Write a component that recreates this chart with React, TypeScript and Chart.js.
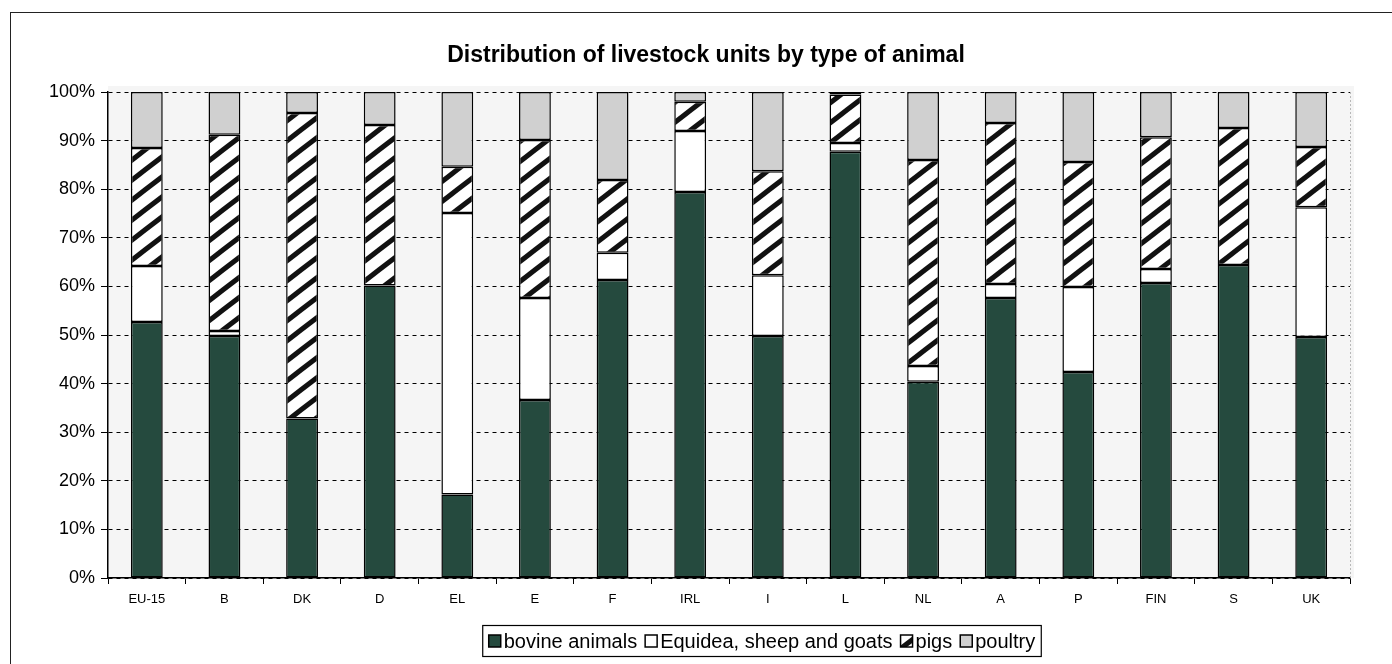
import React, { useEffect, useRef } from "react";
import { Chart, registerables } from "chart.js";
Chart.register(...registerables);

const TITLE = "Distribution of livestock units by type of animal";
const categories = ["EU-15", "B", "DK", "D", "EL", "E", "F", "IRL", "I", "L", "NL", "A", "P", "FIN", "S", "UK"];
const seriesLabels = ["bovine animals", "Equidea, sheep and goats", "pigs", "poultry"];
const bovine = [52.7, 49.8, 32.8, 60.2, 17.2, 36.6, 61.3, 79.4, 49.8, 87.7, 40.4, 57.6, 42.4, 60.7, 64.4, 49.6];
const equidae = [11.5, 1.0, 0, 0, 57.9, 21.0, 5.6, 12.6, 12.5, 1.8, 3.2, 2.9, 17.5, 2.9, 0, 26.7];
const pigs = [24.3, 40.4, 62.9, 33.0, 9.5, 32.5, 15.0, 6.0, 21.4, 10.0, 42.4, 33.1, 25.7, 27.1, 28.2, 12.4];
const poultry = [11.5, 8.8, 4.3, 6.8, 15.4, 9.9, 18.1, 2.0, 16.3, 0.5, 14.0, 6.4, 14.4, 9.3, 7.4, 11.3];
const yTicks = [0, 10, 20, 30, 40, 50, 60, 70, 80, 90, 100];

const FONT = '"Liberation Sans", Arial, sans-serif';

function makeHatch(): CanvasPattern | string {
  const w = 26, h = 20;
  const c = document.createElement("canvas");
  c.width = w;
  c.height = h;
  const g = c.getContext("2d");
  if (!g) return "#ffffff";
  g.fillStyle = "#ffffff";
  g.fillRect(0, 0, w, h);
  g.strokeStyle = "#111111";
  g.lineWidth = 5;
  for (let k = -1; k <= 1; k++) {
    g.beginPath();
    g.moveTo(k * w - w, h * 2);
    g.lineTo(k * w + w * 2, -h);
    g.stroke();
  }
  const p = g.createPattern(c, "repeat");
  return p || "#ffffff";
}

export default function App() {
  const ref = useRef<HTMLCanvasElement | null>(null);

  useEffect(() => {
    const canvas = ref.current;
    if (!canvas) return;
    const hatch = makeHatch();
    const fills: any[] = ["#254a3e", "#ffffff", hatch, "#d0d0d0"];
    const values = [bovine, equidae, pigs, poultry];

    const bgPlugin = {
      id: "bgPlugin",
      beforeDraw(chart: any) {
        const { ctx, chartArea } = chart;
        ctx.save();
        ctx.fillStyle = "#ffffff";
        ctx.fillRect(0, 0, chart.width, chart.height);
        ctx.fillStyle = "#f5f5f5";
        ctx.fillRect(chartArea.left, chartArea.top - 6, chartArea.right - chartArea.left + 4, chartArea.bottom - chartArea.top + 6);
        ctx.restore();
      },
      afterDraw(chart: any) {
        const { ctx, chartArea } = chart;
        ctx.save();
        // title
        ctx.font = "bold 23px " + FONT;
        ctx.fillStyle = "#000000";
        ctx.textAlign = "center";
        ctx.textBaseline = "middle";
        ctx.fillText(TITLE, 695, 43);

        // right faint dotted edge
        ctx.strokeStyle = "#b8b8b8";
        ctx.lineWidth = 1;
        ctx.setLineDash([2, 2]);
        ctx.beginPath();
        ctx.moveTo(chartArea.right + 0.5, chartArea.top);
        ctx.lineTo(chartArea.right + 0.5, chartArea.bottom);
        ctx.stroke();
        ctx.setLineDash([]);

        // legend
        ctx.font = "20px " + FONT;
        ctx.textBaseline = "middle";
        ctx.textAlign = "left";
        const box = 12, gapBox = 3, gapItem = 8, padX = 6;
        const ds = chart.data.datasets;
        const widths = ds.map((d: any) => ctx.measureText(d.label).width);
        let total = 0;
        widths.forEach((w: number, i: number) => {
          total += box + gapBox + w + (i < widths.length - 1 ? gapItem : 0);
        });
        const cx = 751, cy = 628, bh = 31;
        const lx = cx - total / 2 - padX;
        ctx.fillStyle = "#ffffff";
        ctx.fillRect(lx, cy - bh / 2, total + padX * 2, bh);
        ctx.strokeStyle = "#000000";
        ctx.lineWidth = 1.2;
        ctx.strokeRect(lx, cy - bh / 2, total + padX * 2, bh);
        let x = cx - total / 2;
        ds.forEach((d: any, i: number) => {
          ctx.fillStyle = d.backgroundColor;
          ctx.fillRect(x, cy - box / 2, box, box);
          ctx.strokeStyle = "#000000";
          ctx.lineWidth = 1.5;
          ctx.strokeRect(x, cy - box / 2, box, box);
          x += box + gapBox;
          ctx.fillStyle = "#000000";
          ctx.fillText(d.label, x, cy + 1);
          x += widths[i] + gapItem;
        });
        ctx.restore();
      },
    };

    const chart = new Chart(canvas, {
      type: "bar",
      data: {
        labels: categories,
        datasets: seriesLabels.map((label, i) => ({
          label,
          data: values[i],
          backgroundColor: fills[i],
          borderColor: "#000000",
          borderWidth: 1.5,
          borderSkipped: false,
          barPercentage: 0.41,
          categoryPercentage: 1,
        })),
      },
      options: {
        animation: false,
        responsive: false,
        devicePixelRatio: 1,
        layout: { padding: { left: 0, right: 42, top: 79, bottom: 0 } },
        plugins: {
          legend: { display: false },
          tooltip: { enabled: false },
          title: { display: false },
        },
        scales: {
          x: {
            stacked: true,
            grid: {
              display: true,
              offset: true,
              drawOnChartArea: false,
              drawTicks: true,
              tickLength: 6,
              color: "#000000",
              tickColor: "#000000",
            },
            border: { display: true, color: "#000000", width: 1.5 },
            ticks: {
              color: "#000000",
              font: { family: FONT, size: 13 },
              padding: 8,
              maxRotation: 0,
              autoSkip: false,
            },
            afterFit(scale: any) {
              scale.height = 86;
            },
          },
          y: {
            stacked: true,
            min: 0,
            max: 100,
            afterBuildTicks(scale: any) {
              scale.ticks = yTicks.map((v) => ({ value: v }));
            },
            ticks: {
              color: "#000000",
              font: { family: FONT, size: 18 },
              padding: 6,
              callback: (v: any) => v + "%",
            },
            grid: {
              color: "#000000",
              lineWidth: 1,
              drawTicks: true,
              tickLength: 7,
              tickColor: "#000000",
            },
            border: { display: true, color: "#000000", width: 1.5, dash: [4, 4] },
            afterFit(scale: any) {
              scale.width = 97;
            },
          },
        },
      },
      plugins: [bgPlugin],
    } as any);
    return () => chart.destroy();
  }, []);

  return (
    <div
      style={{
        position: "fixed",
        left: 10,
        top: 12,
        width: 1400,
        height: 700,
        borderTop: "1px solid #222",
        borderLeft: "1px solid #222",
        overflow: "hidden",
        background: "#ffffff",
      }}
    >
      <canvas ref={ref} width={1381} height={651} style={{ display: "block" }} />
    </div>
  );
}
